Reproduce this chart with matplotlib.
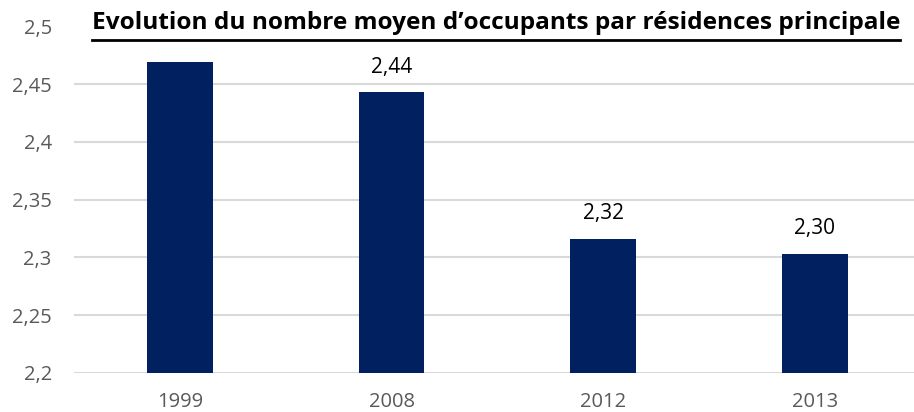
import matplotlib
matplotlib.use("Agg")
import matplotlib.pyplot as plt
from matplotlib.lines import Line2D
from matplotlib.ticker import FuncFormatter

years = ["1999", "2008", "2012", "2013"]
occupants = [2.469, 2.443, 2.316, 2.303]
value_labels = [None, "2,44", "2,32", "2,30"]  # l'étiquette de 1999 est cachée sous le titre
y_ticks = [2.2, 2.25, 2.3, 2.35, 2.4, 2.45, 2.5]
title = "Evolution du nombre moyen d\u2019occupants par résidences principale"

plt.rcParams["font.family"] = ["Open Sans", "DejaVu Sans"]

W, H = 914, 412
fig = plt.figure(figsize=(W / 100, H / 100), dpi=100)
ax = fig.add_axes([74 / W, (H - 372.7) / H, 840 / W, (372.7 - 26.6) / H])

x = range(len(years))
ax.bar(x, occupants, width=0.31, color="#002060", zorder=3)

# grille horizontale (pas de ligne à 2,5)
for t in y_ticks[:-1]:
    ax.axhline(t, color="#d9d9d9", lw=1.5, zorder=1)

ax.set_xlim(-0.5, -0.5 + 840 / 211.7)
ax.set_ylim(2.2, 2.5)
ax.set_yticks(y_ticks)
ax.yaxis.set_major_formatter(FuncFormatter(lambda v, p: f"{v:g}".replace(".", ",")))
ax.set_xticks(list(x))
ax.set_xticklabels(years)
ax.tick_params(axis="y", length=0, pad=16, labelsize=14.5, labelcolor="#595959")
ax.tick_params(axis="x", length=0, pad=14, labelsize=14.5, labelcolor="#595959")
for s in ax.spines.values():
    s.set_visible(False)

for i, lab in enumerate(value_labels):
    if lab is None:
        continue
    ax.annotate(lab, (i, occupants[i]), xytext=(0, 18), textcoords="offset points",
                ha="center", va="center", fontsize=15, color="black")

t = fig.text(496 / W, 1 - 23 / H, title, ha="center", va="center",
             fontsize=17.6, fontweight="bold", color="black")

# soulignement du titre
fig.canvas.draw()
bb = t.get_window_extent().transformed(fig.transFigure.inverted())
yl = 1 - 39.5 / H
fig.add_artist(Line2D([bb.x0, bb.x1], [yl, yl], color="black", lw=2, transform=fig.transFigure))

fig.savefig("out.png", dpi=100)
